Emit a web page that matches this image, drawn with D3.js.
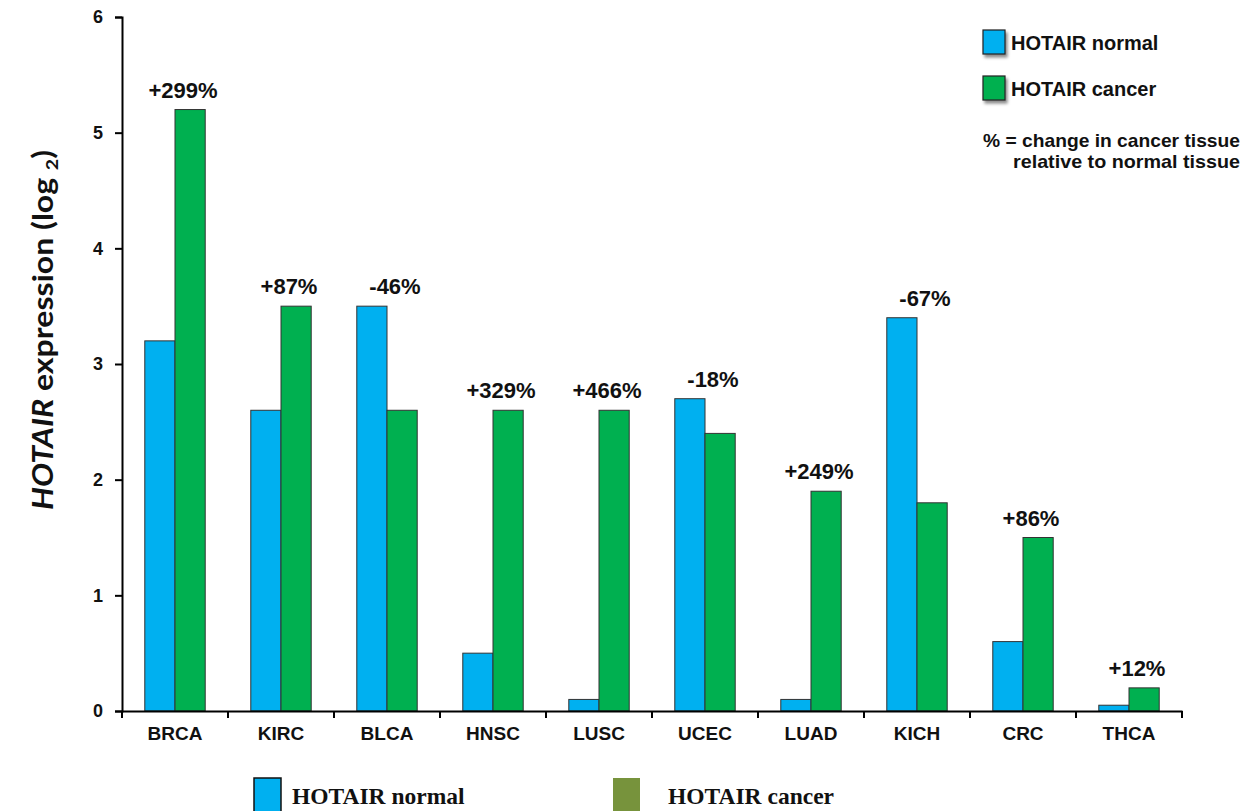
<!DOCTYPE html>
<html><head><meta charset="utf-8">
<script src="https://cdn.jsdelivr.net/npm/d3@7"></script>
<style>body{margin:0;background:#fff}svg{display:block}</style>
</head><body>
<svg id="c" width="1259" height="811"></svg>
<script>
const categories = ["BRCA","KIRC","BLCA","HNSC","LUSC","UCEC","LUAD","KICH","CRC","THCA"];
const normalValues = [3.2, 2.6, 3.5, 0.5, 0.1, 2.7, 0.1, 3.4, 0.6, 0.05];
const cancerValues = [5.2, 3.5, 2.6, 2.6, 2.6, 2.4, 1.9, 1.8, 1.5, 0.2];
const changeLabels = ["+299%","+87%","-46%","+329%","+466%","-18%","+249%","-67%","+86%","+12%"];
const yTicks = [0,1,2,3,4,5,6];
const seriesNames = ["HOTAIR normal","HOTAIR cancer"];

const svg = d3.select("#c");
const m = {l:122, r:1182, t:17, b:711};
const x0 = d3.scaleBand().domain(categories).range([m.l, m.r]).paddingInner(0.43).paddingOuter(0.215);
const x1 = d3.scaleBand().domain([0,1]).range([0, x0.bandwidth()]);
const y = d3.scaleLinear().domain([0,6]).range([m.b, m.t]);
const colors = ["#00B0F0","#00B050"];
const font = "'Liberation Sans', Arial, sans-serif";

// bars
const g = svg.append("g");
categories.forEach((c,i)=>{
  [normalValues[i], cancerValues[i]].forEach((v,j)=>{
    g.append("rect").attr("x", x0(c)+x1(j)).attr("width", x1.bandwidth())
      .attr("y", y(v)).attr("height", y(0)-y(v))
      .attr("fill", colors[j]).attr("stroke","#333").attr("stroke-width",1);
  });
  const top = Math.max(normalValues[i], cancerValues[i]);
  g.append("text").attr("x", x0(c)+x0.bandwidth()/2+8).attr("y", y(top)-12)
    .attr("text-anchor","middle").attr("font-family",font).attr("font-weight","bold")
    .attr("font-size",22).attr("fill","#111").text(changeLabels[i]);
});

// y axis
const ya = svg.append("g").attr("transform",`translate(${m.l},0)`)
  .call(d3.axisLeft(y).tickValues(yTicks).tickSize(7).tickPadding(12).tickFormat(d3.format("d")));
ya.select(".domain").attr("stroke","#000").attr("stroke-width",2);
ya.selectAll(".tick line").attr("stroke","#000").attr("stroke-width",2);
ya.selectAll("text").attr("font-family",font).attr("font-weight","bold").attr("font-size",18).attr("fill","#111");

// x axis
const xa = svg.append("g").attr("transform",`translate(0,${m.b})`)
  .call(d3.axisBottom(x0).tickSize(0).tickPadding(16).tickSizeOuter(0));
xa.select(".domain").attr("stroke","#000").attr("stroke-width",2);
xa.selectAll("text").attr("font-family",font).attr("font-weight","bold").attr("font-size",19).attr("fill","#111");
const step = x0.step();
const bounds = d3.range(categories.length+1).map(k => m.l + k*step);
svg.append("g").selectAll("line").data(bounds).join("line")
  .attr("x1",d=>d).attr("x2",d=>d).attr("y1",m.b).attr("y2",m.b+7)
  .attr("stroke","#000").attr("stroke-width",2);

// y title
const yt = svg.append("text").attr("transform","translate(53,330) rotate(-90)")
  .attr("text-anchor","middle").attr("font-family","Lato,'Open Sans',sans-serif").attr("font-weight","bold")
  .attr("font-size",28).attr("fill","#111")
  .attr("textLength",360).attr("lengthAdjust","spacingAndGlyphs");
yt.append("tspan").attr("font-style","italic").text("HOTAIR");
yt.append("tspan").text(" expression (log ");
yt.append("tspan").attr("font-size",17).attr("dy",5).text("2");
yt.append("tspan").attr("dy",-5).text(")");

// top-right legend
const defs = svg.append("defs");
const f = defs.append("filter").attr("id","sh").attr("x","-30%").attr("y","-30%").attr("width","170%").attr("height","170%");
f.append("feDropShadow").attr("dx",2).attr("dy",3).attr("stdDeviation",1.5).attr("flood-color","#000").attr("flood-opacity",0.45);
const leg = svg.append("g");
seriesNames.forEach((s,j)=>{
  leg.append("rect").attr("x",983).attr("y",30+j*46).attr("width",22).attr("height",24)
    .attr("fill",colors[j]).attr("stroke","#222").attr("stroke-width",1.2).attr("filter","url(#sh)");
  leg.append("text").attr("x",1011).attr("y",50+j*46).attr("font-family",font).attr("font-weight","bold")
    .attr("font-size",20).attr("fill","#111").text(s);
});
leg.append("text").attr("x",983).attr("y",147).attr("font-family",font).attr("font-weight","bold")
  .attr("font-size",19).attr("fill","#111").attr("textLength",257).attr("lengthAdjust","spacingAndGlyphs")
  .text("% = change in cancer tissue");
leg.append("text").attr("x",1013).attr("y",168).attr("font-family",font).attr("font-weight","bold")
  .attr("font-size",19).attr("fill","#111").attr("textLength",227).attr("lengthAdjust","spacingAndGlyphs")
  .text("relative to normal tissue");

// bottom legend
const bl = svg.append("g");
const bColors = ["#00B0F0","#77933C"];
const bx = [254, 613], tx = [292, 668];
seriesNames.forEach((s,j)=>{
  bl.append("rect").attr("x",bx[j]).attr("y",778).attr("width",27).attr("height",40)
    .attr("fill",bColors[j]).attr("stroke", j===0?"#111":"none").attr("stroke-width",1.5);
  bl.append("text").attr("x",tx[j]).attr("y",804).attr("font-family","'Liberation Serif','Times New Roman',serif")
    .attr("font-weight","bold").attr("font-size",23.5).attr("fill","#111").text(s);
});
</script>
</body></html>
